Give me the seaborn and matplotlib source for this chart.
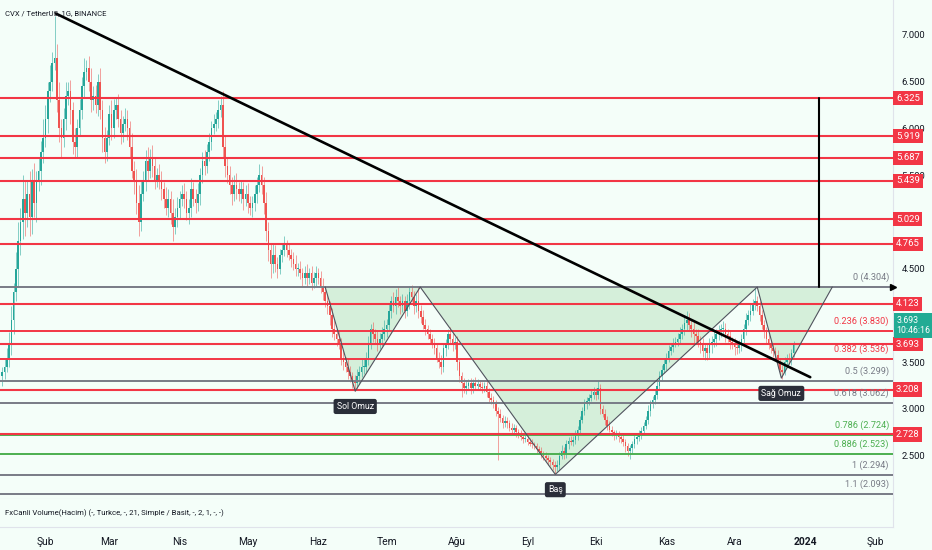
import numpy as np
import pandas as pd
import matplotlib
matplotlib.use("Agg")
import matplotlib.pyplot as plt
from matplotlib import font_manager as fm
import seaborn as sns

# ---------------- data ----------------
start_date = "2023-01-13"
first_open = 3.35
closes = [
    3.40, 3.45, 3.55, 3.70, 3.95, 4.25, 4.50, 4.80, 5.00, 5.25,
    5.10, 5.30, 5.05, 5.45, 5.20, 5.45, 5.55, 5.75, 5.90, 6.10,
    6.40, 6.50, 6.70, 6.75, 6.30, 6.00, 5.90, 6.10, 6.35, 6.40,
    6.20, 5.85, 5.80, 6.00, 6.20, 6.45, 6.60, 6.65, 6.50, 6.30,
    6.35, 6.25, 6.50, 6.20, 5.90, 5.75, 5.90, 6.15, 6.00, 6.20,
    6.25, 6.10, 5.95, 6.05, 6.10, 6.00, 5.80, 5.55, 5.45, 5.20,
    5.00, 5.30, 5.45, 5.65, 5.55, 5.70, 5.60, 5.45, 5.50, 5.45,
    5.35, 5.25, 5.15, 5.25, 5.10, 4.95, 5.05, 5.15, 5.25, 5.30,
    5.25, 5.10, 5.15, 5.35, 5.25, 5.20, 5.30, 5.50, 5.65, 5.60,
    5.75, 5.85, 6.00, 6.05, 6.10, 6.20, 6.25, 5.80, 5.60, 5.50,
    5.40, 5.30, 5.40, 5.35, 5.30, 5.35, 5.25, 5.30, 5.20, 5.15,
    5.20, 5.30, 5.40, 5.50, 5.40, 5.20, 4.90, 4.70, 4.55, 4.65,
    4.55, 4.50, 4.65, 4.70, 4.75, 4.70, 4.65, 4.60, 4.55, 4.50,
    4.50, 4.45, 4.40, 4.45, 4.40, 4.45, 4.35, 4.40, 4.45, 4.40,
    4.30, 4.25, 4.15, 4.10, 4.00, 3.85, 3.80, 3.75, 3.70, 3.55,
    3.50, 3.45, 3.40, 3.35, 3.30, 3.28, 3.35, 3.40, 3.45, 3.45,
    3.55, 3.70, 3.85, 3.80, 3.75, 3.70, 3.75, 3.80, 3.85, 3.90,
    4.05, 4.15, 4.10, 4.20, 4.15, 4.10, 4.15, 4.05, 4.15, 4.25,
    4.20, 4.10, 4.15, 4.05, 3.98, 3.90, 3.85, 3.80, 3.75, 3.70,
    3.65, 3.55, 3.50, 3.45, 3.65, 3.70, 3.80, 3.75, 3.70, 3.72,
    3.50, 3.35, 3.28, 3.22, 3.25, 3.28, 3.22, 3.28, 3.25, 3.27,
    3.24, 3.22, 3.25, 3.18, 3.12, 3.10, 3.05, 2.98, 2.95, 2.90,
    2.85, 2.87, 2.85, 2.80, 2.78, 2.80, 2.75, 2.73, 2.70, 2.68,
    2.68, 2.65, 2.63, 2.62, 2.60, 2.57, 2.55, 2.52, 2.50, 2.48,
    2.45, 2.43, 2.40, 2.38, 2.40, 2.50, 2.55, 2.52, 2.62, 2.66,
    2.65, 2.67, 2.72, 2.78, 2.88, 2.98, 3.05, 3.08, 3.12, 3.15,
    3.18, 3.15, 3.22, 3.00, 2.95, 2.88, 2.82, 2.78, 2.75, 2.72,
    2.73, 2.70, 2.68, 2.65, 2.60, 2.55, 2.58, 2.62, 2.68, 2.70,
    2.73, 2.76, 2.82, 2.88, 2.98, 3.05, 3.10, 3.15, 3.25, 3.35,
    3.42, 3.48, 3.55, 3.62, 3.66, 3.70, 3.72, 3.75, 3.80, 3.85,
    3.92, 3.95, 3.90, 3.85, 3.80, 3.78, 3.72, 3.68, 3.62, 3.65,
    3.60, 3.68, 3.72, 3.75, 3.80, 3.82, 3.85, 3.86, 3.80, 3.78,
    3.72, 3.70, 3.66, 3.65, 3.68, 3.75, 3.85, 3.95, 4.00, 4.05,
    4.12, 4.15, 4.10, 4.00, 3.90, 3.82, 3.75, 3.70, 3.65, 3.62,
    3.58, 3.50, 3.42, 3.40, 3.50, 3.55, 3.52, 3.60, 3.693,
]
wick_up = [  # cents
    5, 8, 10, 12, 15, 10, 18, 20, 15, 25,
    20, 15, 25, 12, 18, 10, 15, 12, 20, 15,
    10, 18, 12, 45, 15, 20, 10, 12, 15, 10,
    12, 8, 15, 10, 12, 10, 15, 8, 12, 15,
    10, 12, 8, 15, 10, 12, 8, 10, 15, 12,
    8, 12, 10, 8, 12, 10, 8, 15, 10, 12,
    20, 15, 10, 12, 15, 8, 12, 10, 8, 12,
    10, 8, 12, 10, 8, 15, 10, 12, 8, 10,
    12, 8, 10, 12, 8, 10, 12, 8, 10, 12,
    8, 10, 8, 10, 8, 10, 10, 15, 12, 8,
    10, 8, 10, 12, 8, 10, 8, 10, 12, 8,
    8, 10, 8, 12, 10, 8, 12, 10, 8, 12,
    10, 8, 6, 8, 10, 6, 8, 6, 8, 10,
    6, 8, 6, 8, 10, 6, 8, 6, 8, 6,
    8, 10, 6, 8, 6, 8, 10, 6, 8, 6,
    8, 6, 8, 6, 5, 6, 8, 6, 8, 10,
    6, 8, 6, 8, 6, 8, 6, 8, 10, 6,
    8, 6, 10, 8, 12, 6, 8, 6, 8, 6,
    8, 6, 8, 15, 6, 8, 6, 5, 6, 5,
    6, 5, 6, 8, 6, 5, 6, 8, 6, 5,
    6, 5, 4, 5, 6, 4, 5, 4, 6, 5,
    4, 5, 4, 6, 4, 5, 4, 5, 4, 5,
    4, 5, 4, 3, 5, 4, 3, 4, 5, 3,
    4, 3, 4, 5, 3, 4, 3, 4, 3, 4,
    3, 4, 3, 4, 5, 4, 6, 4, 5, 4,
    5, 4, 6, 4, 5, 4, 6, 5, 4, 6,
    5, 4, 8, 5, 4, 5, 4, 5, 4, 3,
    4, 3, 4, 5, 3, 4, 3, 4, 5, 4,
    4, 5, 4, 5, 6, 5, 4, 6, 5, 6,
    5, 6, 5, 6, 5, 6, 5, 6, 8, 6,
    8, 10, 8, 6, 8, 6, 8, 6, 8, 6,
    6, 8, 6, 8, 6, 8, 6, 8, 6, 5,
    6, 5, 6, 5, 6, 5, 6, 8, 6, 8,
    6, 15, 6, 5, 6, 5, 6, 5, 4, 5,
    4, 5, 4, 5, 6, 4, 5, 4, 3,
]
wick_dn = [  # cents
    10, 8, 6, 10, 12, 15, 10, 20, 15, 18,
    25, 15, 20, 18, 15, 20, 12, 15, 12, 10,
    15, 12, 10, 8, 12, 15, 20, 10, 12, 10,
    15, 12, 10, 12, 8, 10, 12, 8, 10, 12,
    10, 8, 12, 10, 15, 12, 10, 8, 12, 10,
    10, 8, 12, 10, 8, 12, 10, 8, 15, 12,
    15, 10, 8, 12, 10, 8, 12, 10, 8, 10,
    12, 10, 8, 10, 12, 15, 8, 10, 12, 8,
    10, 8, 12, 10, 8, 10, 8, 12, 8, 10,
    8, 10, 8, 6, 8, 10, 8, 10, 12, 8,
    10, 12, 8, 10, 8, 10, 12, 8, 10, 8,
    10, 8, 10, 8, 10, 12, 10, 12, 15, 10,
    8, 10, 6, 8, 6, 8, 6, 8, 6, 8,
    8, 6, 8, 6, 8, 6, 8, 6, 8, 6,
    6, 8, 6, 8, 10, 8, 6, 8, 6, 8,
    8, 6, 8, 6, 8, 9, 6, 8, 6, 8,
    6, 8, 6, 8, 6, 8, 6, 8, 6, 8,
    6, 8, 6, 8, 6, 8, 6, 8, 6, 8,
    6, 8, 6, 8, 6, 5, 6, 5, 6, 5,
    6, 5, 6, 8, 6, 8, 6, 5, 8, 6,
    8, 6, 15, 5, 6, 5, 6, 5, 4, 5,
    4, 5, 4, 5, 6, 5, 4, 5, 50, 4,
    5, 4, 5, 4, 5, 4, 5, 4, 3, 4,
    3, 4, 3, 4, 3, 4, 3, 4, 5, 4,
    5, 4, 5, 8, 4, 5, 4, 5, 4, 5,
    4, 5, 4, 5, 4, 3, 4, 5, 4, 3,
    4, 5, 4, 5, 4, 5, 4, 3, 4, 5,
    4, 5, 4, 5, 6, 5, 8, 5, 4, 5,
    4, 5, 4, 3, 4, 5, 4, 5, 4, 5,
    5, 4, 6, 5, 4, 5, 4, 5, 6, 5,
    6, 8, 6, 8, 10, 8, 6, 8, 6, 10,
    8, 6, 8, 6, 8, 6, 5, 6, 8, 6,
    8, 6, 8, 6, 5, 6, 5, 6, 5, 6,
    5, 6, 5, 6, 5, 6, 5, 6, 5, 6,
    5, 6, 5, 8, 4, 5, 4, 5, 4,
]

red_levels = [6.325, 5.919, 5.687, 5.439, 5.029, 4.765, 4.123, 3.693, 3.208, 2.728]
fib_ratios = ["0", "0.236", "0.382", "0.5", "0.618", "0.786", "0.886", "1", "1.1"]
fib_prices = [4.304, 3.830, 3.536, 3.299, 3.062, 2.724, 2.523, 2.294, 2.093]
fib_kinds = ["gray", "red", "red", "gray", "gray", "green", "green", "gray", "gray"]

trend_days = [23.5, 355.3]
trend_prices = [7.23, 3.34]
pattern_days = [142.0, 155.2, 183.8, 243.2, 332.0, 342.6, 365.0]
pattern_prices = [4.304, 3.19, 4.304, 2.30, 4.304, 3.33, 4.304]
pattern_labels = {1: "Sol Omuz", 3: "Baş", 5: "Sağ Omuz"}
target_day = 359.3
target_prices = [6.325, 4.304]
last_price = 3.693
last_time = "10:46:16"

month_dates = ["2023-02-01", "2023-03-01", "2023-04-01", "2023-05-01", "2023-06-01",
               "2023-07-01", "2023-08-01", "2023-09-01", "2023-10-01", "2023-11-01",
               "2023-12-01", "2024-01-01", "2024-02-01"]
month_labels = ["Şub", "Mar", "Nis", "May", "Haz", "Tem", "Ağu", "Eyl", "Eki", "Kas",
                "Ara", "2024", "Şub"]
price_ticks = [2.5, 3.0, 3.5, 4.5, 5.5, 6.0, 6.5, 7.0]

title = "CVX / TetherUS, 1G, BINANCE"
volume_title = "FxCanli Volume(Hacim) (-, Turkce, -, 21, Simple / Basit, -, 2, 1, -, -)"

# ---------------- styling ----------------
sns.set_theme(style="white")
plt.rcParams["font.family"] = ["Roboto", "DejaVu Sans"]
installed = {f.name for f in fm.fontManager.ttflist}
NARROW = ["Liberation Sans Narrow", "Roboto", "DejaVu Sans"] if "Liberation Sans Narrow" in installed \
    else ["Roboto", "DejaVu Sans"]
narrow_scale = 1.0 if "Liberation Sans Narrow" in installed else 0.85

BG = "#f4fef9"
UP = "#26a69a"
DN = "#ef5350"
RED = "#f23645"
GRAY = "#787b86"
GREEN = "#4caf50"
TXT = "#131722"
SEP = "#e0e3eb"
kind_color = {"gray": GRAY, "red": RED, "green": GREEN}

df = pd.DataFrame({"close": closes})
df["day"] = np.arange(len(df))
df["open"] = df["close"].shift(1).fillna(first_open)
df["high"] = df[["open", "close"]].max(axis=1) + np.array(wick_up) / 100.0
df["low"] = df[["open", "close"]].min(axis=1) - np.array(wick_dn) / 100.0
df["up"] = df["close"] >= df["open"]

W, H = 932, 550
fig = plt.figure(figsize=(W / 100, H / 100), dpi=100)
fig.patch.set_facecolor(BG)
ax = fig.add_axes([0, 51 / H, 893 / W, 499 / H])
axv = fig.add_axes([0, 23 / H, 893 / W, 28 / H], sharex=ax)
for a in (ax, axv):
    a.set_facecolor(BG)
    for s in a.spines.values():
        s.set_color(SEP)
        s.set_linewidth(0.8)
    a.spines["top"].set_visible(False)
    a.spines["left"].set_visible(False)

ax.set_xlim(-1.0, 391.7)
ax.set_ylim(2.037, 7.374)

# pattern fill (behind candles)
ax.fill(pattern_days, pattern_prices, color="#d5efda", lw=0, zorder=0.5)

# candles
colors = np.where(df["up"], UP, DN)
ax.vlines(df["day"], df["low"], df["high"], colors=colors, lw=0.7, alpha=0.55, zorder=2)
body_bottom = df[["open", "close"]].min(axis=1)
body_h = np.maximum((df["close"] - df["open"]).abs(), 0.012)
ax.bar(df["day"], body_h, bottom=body_bottom, width=0.72, color=colors, lw=0, zorder=2.2)

# horizontal levels
for p, k in zip(fib_prices, fib_kinds):
    ax.axhline(p, color=kind_color[k], lw=1.4, zorder=3)
for v in red_levels:
    ax.axhline(v, color=RED, lw=1.5, zorder=3.1)

# pattern zigzag + labels
sns.lineplot(x=pattern_days, y=pattern_prices, sort=False, color="#50535e", lw=0.8,
             ax=ax, zorder=4)
for idx, name in pattern_labels.items():
    ax.annotate(name, xy=(pattern_days[idx], pattern_prices[idx]), xytext=(0, -11),
                textcoords="offset points", ha="center", va="center", fontsize=6.3,
                color="white", zorder=7,
                bbox=dict(boxstyle="round,pad=0.35,rounding_size=0.25", fc="#2a2e39", ec="none"))

# trend line & target line
sns.lineplot(x=trend_days, y=trend_prices, color="black", lw=1.9, ax=ax, zorder=5)
ax.plot([target_day, target_day], target_prices, color="black", lw=1.5, zorder=5)
ax.plot([1.0], [target_prices[1]], marker=">", ms=5, color="black",
        transform=ax.get_yaxis_transform(), clip_on=False, zorder=8)

# fib labels
for r, p, k in zip(fib_ratios, fib_prices, fib_kinds):
    ax.annotate(f"{r} ({p:.3f})", xy=(889 / 893, p), xycoords=ax.get_yaxis_transform(),
                xytext=(0, 7), textcoords="offset points", ha="right", va="center",
                fontsize=6.6, color=kind_color[k], zorder=6)

# price axis
ax.yaxis.tick_right()
ax.set_yticks(price_ticks)
ax.set_yticklabels([f"{v:.3f}" for v in price_ticks])
ax.tick_params(axis="y", length=0, pad=6, labelsize=6.8, labelcolor=TXT)
ax.tick_params(axis="x", length=0, labelbottom=False)
ax.set_xlabel("")
ax.set_ylabel("")

for v in red_levels:
    ax.text(1.0 + 3 / 893, v, f"{v:.3f}", transform=ax.get_yaxis_transform(), ha="left",
            va="center", fontsize=6.8, color="white", clip_on=False, zorder=9,
            bbox=dict(boxstyle="square,pad=0.28", fc=RED, ec="none"))
ax.annotate(f"{last_price:.3f}\n{last_time}", xy=(1.0, last_price),
            xycoords=ax.get_yaxis_transform(), xytext=(2.5, 13.5), textcoords="offset points",
            ha="left", va="center", fontsize=6.3, color="white", linespacing=1.15,
            annotation_clip=False, zorder=10,
            bbox=dict(boxstyle="square,pad=0.3", fc="#22ab94", ec="none"))

ax.text(5 / 893, 1 - 13 / 499, title, transform=ax.transAxes, fontsize=6.5 * narrow_scale,
        family=NARROW, color=TXT, ha="left", va="center", zorder=10)

# volume pane + time axis
axv.set_yticks([])
axv.set_ylabel("")
start = pd.Timestamp(start_date)
tick_pos = [(pd.Timestamp(d) - start).days for d in month_dates]
axv.set_xticks(tick_pos)
axv.set_xticklabels(month_labels)
axv.tick_params(axis="x", length=0, pad=7, labelsize=7.4, labelcolor=TXT)
for lab in axv.get_xticklabels():
    lab.set_family(NARROW)
    if lab.get_text() == "2024":
        lab.set_fontweight("bold")
axv.text(5 / 893, 0.5, volume_title, transform=axv.transAxes, fontsize=6.6 * narrow_scale,
         family=NARROW, color=TXT, ha="left", va="center")

fig.savefig("out.png", dpi=100, facecolor=BG)
